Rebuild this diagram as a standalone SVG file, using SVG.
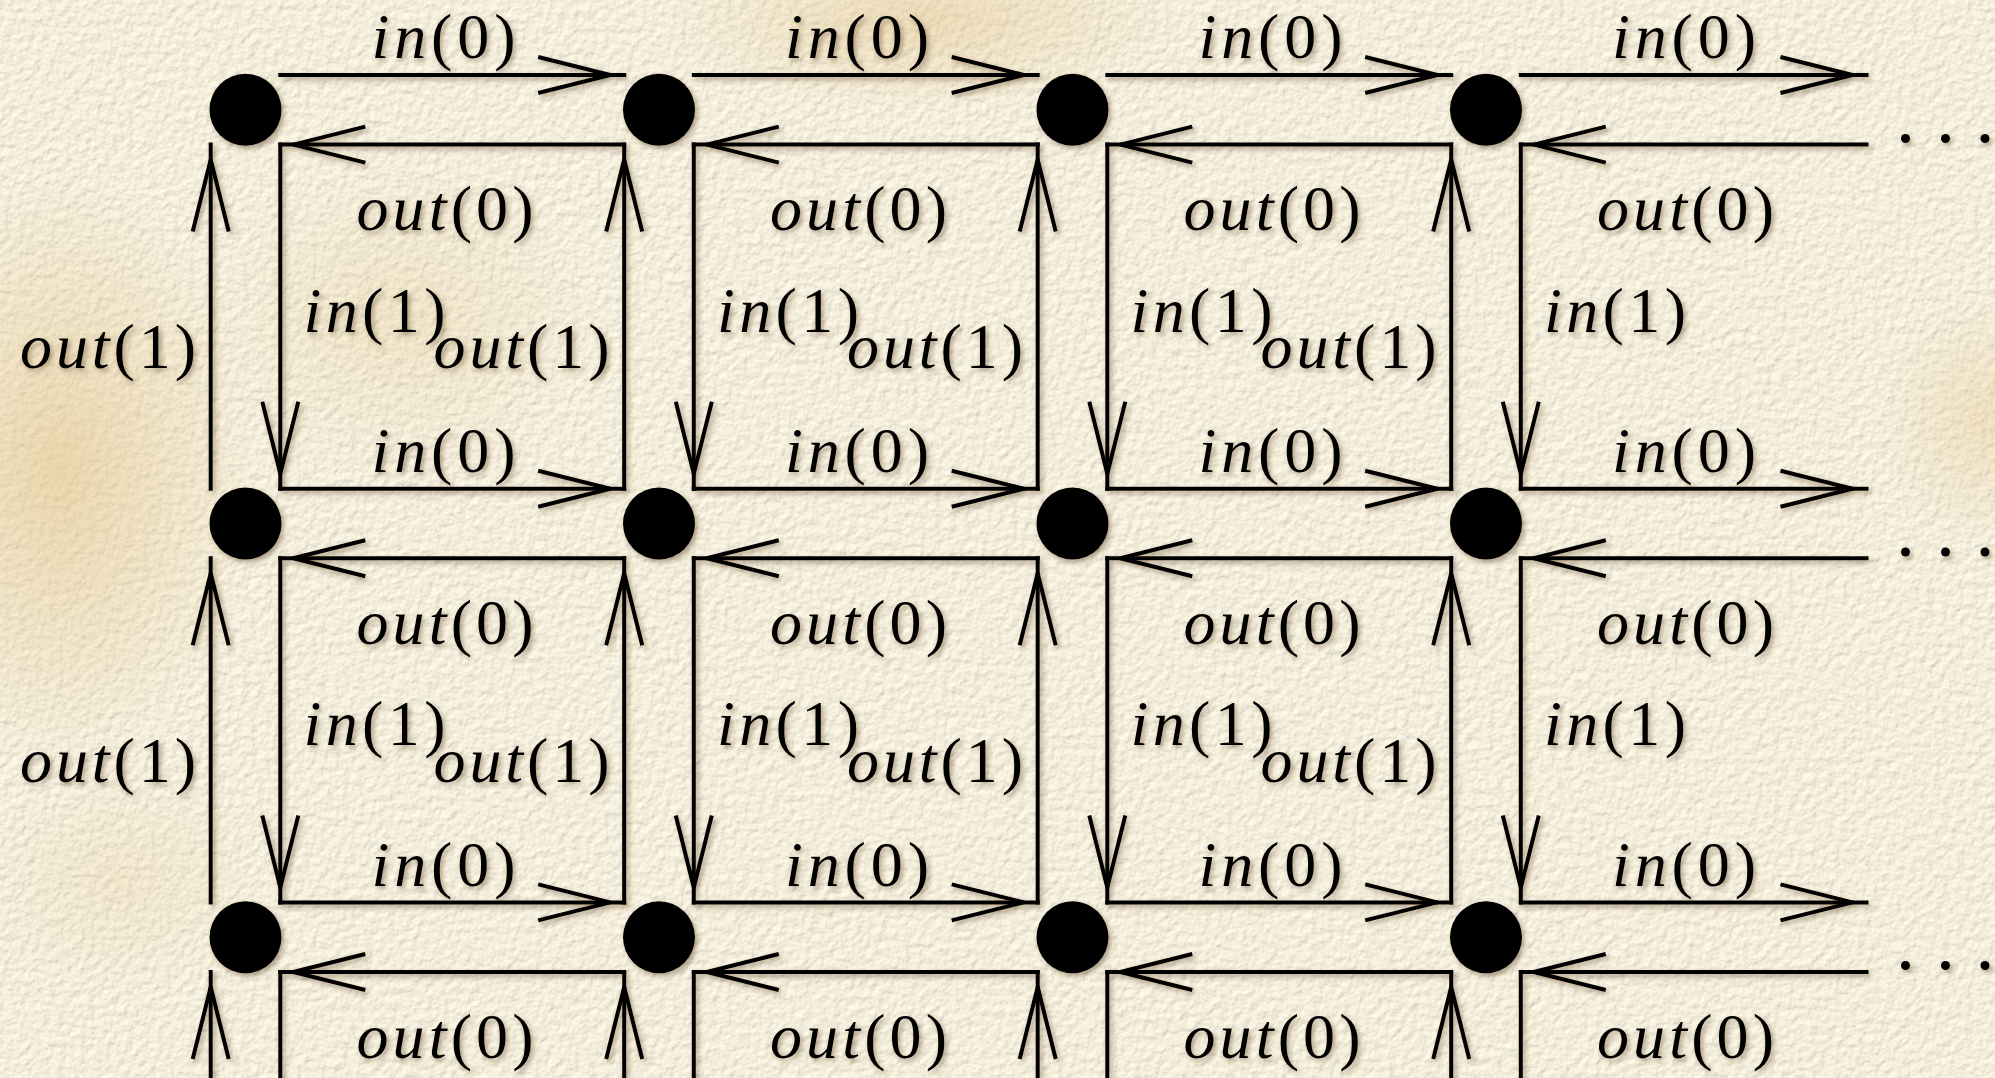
<svg xmlns="http://www.w3.org/2000/svg" width="1995" height="1078" viewBox="0 0 1995 1078">
<defs>
<style>
.ln{stroke:#000;stroke-width:4;fill:none;stroke-linecap:square}
.ah{stroke:#000;stroke-width:4;fill:none;stroke-linecap:butt;stroke-linejoin:round}
.nd{fill:#000}
.lb{font-family:"Liberation Serif","Times New Roman",serif;font-size:64px;fill:#000}
.it{font-style:italic}
.dot{fill:#000}
</style>
<path id="ah" d="M-72,-18 L0,0 L-72,18"/>
<filter id="paper" filterUnits="userSpaceOnUse" x="0" y="0" width="1995" height="1078">
<feTurbulence type="fractalNoise" baseFrequency="0.13" numOctaves="3" seed="11" result="noise"/>
<feDiffuseLighting in="noise" surfaceScale="1.3" diffuseConstant="1" lighting-color="#ffffff" result="light">
<feDistantLight azimuth="235" elevation="62"/>
</feDiffuseLighting>
<feComposite in="light" in2="SourceGraphic" operator="arithmetic" k1="1.1" k2="0" k3="0" k4="0"/>
</filter>
<filter id="shadow" filterUnits="userSpaceOnUse" x="0" y="0" width="1995" height="1078">
<feDropShadow dx="2.5" dy="3" stdDeviation="2.5" flood-color="#5a4320" flood-opacity="0.45"/>
</filter>
<radialGradient id="stain">
<stop offset="0" stop-color="#e2c58c" stop-opacity="0.6"/>
<stop offset="1" stop-color="#e2c58c" stop-opacity="0"/>
</radialGradient>
</defs>

<g id="background">
<rect x="0" y="0" width="1995" height="1078" fill="#f7f1df" filter="url(#paper)"/>
<ellipse cx="60" cy="470" rx="200" ry="300" fill="url(#stain)"/>
<ellipse cx="920" cy="20" rx="260" ry="90" fill="url(#stain)" opacity="0.8"/>
<ellipse cx="400" cy="320" rx="200" ry="160" fill="url(#stain)" opacity="0.45"/>
<ellipse cx="1985" cy="420" rx="110" ry="130" fill="url(#stain)" opacity="0.6"/>
<ellipse cx="120" cy="880" rx="150" ry="120" fill="url(#stain)" opacity="0.35"/>
</g>

<g id="drawing" filter="url(#shadow)">
<g id="connectors">
<g id="in0-r0">
<line class="ln" x1="280.3" y1="75" x2="624.2" y2="75"/><use href="#ah" class="ah" transform="translate(610.2,75)"/>
<line class="ln" x1="693.8" y1="75" x2="1037.7" y2="75"/><use href="#ah" class="ah" transform="translate(1023.7,75)"/>
<line class="ln" x1="1107.3" y1="75" x2="1451.2" y2="75"/><use href="#ah" class="ah" transform="translate(1437.2,75)"/>
<line class="ln" x1="1520.8" y1="75" x2="1866.5" y2="75"/><use href="#ah" class="ah" transform="translate(1852.5,75)"/>
</g>
<g id="in0-r1">
<line class="ln" x1="280.3" y1="488.7" x2="624.2" y2="488.7"/><use href="#ah" class="ah" transform="translate(610.2,488.7)"/>
<line class="ln" x1="693.8" y1="488.7" x2="1037.7" y2="488.7"/><use href="#ah" class="ah" transform="translate(1023.7,488.7)"/>
<line class="ln" x1="1107.3" y1="488.7" x2="1451.2" y2="488.7"/><use href="#ah" class="ah" transform="translate(1437.2,488.7)"/>
<line class="ln" x1="1520.8" y1="488.7" x2="1866.5" y2="488.7"/><use href="#ah" class="ah" transform="translate(1852.5,488.7)"/>
</g>
<g id="in0-r2">
<line class="ln" x1="280.3" y1="902.4" x2="624.2" y2="902.4"/><use href="#ah" class="ah" transform="translate(610.2,902.4)"/>
<line class="ln" x1="693.8" y1="902.4" x2="1037.7" y2="902.4"/><use href="#ah" class="ah" transform="translate(1023.7,902.4)"/>
<line class="ln" x1="1107.3" y1="902.4" x2="1451.2" y2="902.4"/><use href="#ah" class="ah" transform="translate(1437.2,902.4)"/>
<line class="ln" x1="1520.8" y1="902.4" x2="1866.5" y2="902.4"/><use href="#ah" class="ah" transform="translate(1852.5,902.4)"/>
</g>
<g id="out0-r0">
<line class="ln" x1="280.3" y1="144.6" x2="624.2" y2="144.6"/><use href="#ah" class="ah" transform="translate(293.3,144.6) rotate(180)"/>
<line class="ln" x1="693.8" y1="144.6" x2="1037.7" y2="144.6"/><use href="#ah" class="ah" transform="translate(706.8,144.6) rotate(180)"/>
<line class="ln" x1="1107.3" y1="144.6" x2="1451.2" y2="144.6"/><use href="#ah" class="ah" transform="translate(1120.3,144.6) rotate(180)"/>
<line class="ln" x1="1520.8" y1="144.6" x2="1866.5" y2="144.6"/><use href="#ah" class="ah" transform="translate(1533.8,144.6) rotate(180)"/>
</g>
<g id="out0-r1">
<line class="ln" x1="280.3" y1="558.3" x2="624.2" y2="558.3"/><use href="#ah" class="ah" transform="translate(293.3,558.3) rotate(180)"/>
<line class="ln" x1="693.8" y1="558.3" x2="1037.7" y2="558.3"/><use href="#ah" class="ah" transform="translate(706.8,558.3) rotate(180)"/>
<line class="ln" x1="1107.3" y1="558.3" x2="1451.2" y2="558.3"/><use href="#ah" class="ah" transform="translate(1120.3,558.3) rotate(180)"/>
<line class="ln" x1="1520.8" y1="558.3" x2="1866.5" y2="558.3"/><use href="#ah" class="ah" transform="translate(1533.8,558.3) rotate(180)"/>
</g>
<g id="out0-r2">
<line class="ln" x1="280.3" y1="972" x2="624.2" y2="972"/><use href="#ah" class="ah" transform="translate(293.3,972) rotate(180)"/>
<line class="ln" x1="693.8" y1="972" x2="1037.7" y2="972"/><use href="#ah" class="ah" transform="translate(706.8,972) rotate(180)"/>
<line class="ln" x1="1107.3" y1="972" x2="1451.2" y2="972"/><use href="#ah" class="ah" transform="translate(1120.3,972) rotate(180)"/>
<line class="ln" x1="1520.8" y1="972" x2="1866.5" y2="972"/><use href="#ah" class="ah" transform="translate(1533.8,972) rotate(180)"/>
</g>
<g id="out1">
<line class="ln" x1="210.7" y1="144.6" x2="210.7" y2="488.7"/><use href="#ah" class="ah" transform="translate(210.7,159.6) rotate(-90)"/>
<line class="ln" x1="624.2" y1="144.6" x2="624.2" y2="488.7"/><use href="#ah" class="ah" transform="translate(624.2,159.6) rotate(-90)"/>
<line class="ln" x1="1037.7" y1="144.6" x2="1037.7" y2="488.7"/><use href="#ah" class="ah" transform="translate(1037.7,159.6) rotate(-90)"/>
<line class="ln" x1="1451.2" y1="144.6" x2="1451.2" y2="488.7"/><use href="#ah" class="ah" transform="translate(1451.2,159.6) rotate(-90)"/>
<line class="ln" x1="210.7" y1="558.3" x2="210.7" y2="902.4"/><use href="#ah" class="ah" transform="translate(210.7,573.3) rotate(-90)"/>
<line class="ln" x1="624.2" y1="558.3" x2="624.2" y2="902.4"/><use href="#ah" class="ah" transform="translate(624.2,573.3) rotate(-90)"/>
<line class="ln" x1="1037.7" y1="558.3" x2="1037.7" y2="902.4"/><use href="#ah" class="ah" transform="translate(1037.7,573.3) rotate(-90)"/>
<line class="ln" x1="1451.2" y1="558.3" x2="1451.2" y2="902.4"/><use href="#ah" class="ah" transform="translate(1451.2,573.3) rotate(-90)"/>
<line class="ln" x1="210.7" y1="972" x2="210.7" y2="1085"/><use href="#ah" class="ah" transform="translate(210.7,987) rotate(-90)"/>
<line class="ln" x1="624.2" y1="972" x2="624.2" y2="1085"/><use href="#ah" class="ah" transform="translate(624.2,987) rotate(-90)"/>
<line class="ln" x1="1037.7" y1="972" x2="1037.7" y2="1085"/><use href="#ah" class="ah" transform="translate(1037.7,987) rotate(-90)"/>
<line class="ln" x1="1451.2" y1="972" x2="1451.2" y2="1085"/><use href="#ah" class="ah" transform="translate(1451.2,987) rotate(-90)"/>
</g>
<g id="in1">
<line class="ln" x1="280.3" y1="144.6" x2="280.3" y2="488.7"/><use href="#ah" class="ah" transform="translate(280.3,473.7) rotate(90)"/>
<line class="ln" x1="693.8" y1="144.6" x2="693.8" y2="488.7"/><use href="#ah" class="ah" transform="translate(693.8,473.7) rotate(90)"/>
<line class="ln" x1="1107.3" y1="144.6" x2="1107.3" y2="488.7"/><use href="#ah" class="ah" transform="translate(1107.3,473.7) rotate(90)"/>
<line class="ln" x1="1520.8" y1="144.6" x2="1520.8" y2="488.7"/><use href="#ah" class="ah" transform="translate(1520.8,473.7) rotate(90)"/>
<line class="ln" x1="280.3" y1="558.3" x2="280.3" y2="902.4"/><use href="#ah" class="ah" transform="translate(280.3,887.4) rotate(90)"/>
<line class="ln" x1="693.8" y1="558.3" x2="693.8" y2="902.4"/><use href="#ah" class="ah" transform="translate(693.8,887.4) rotate(90)"/>
<line class="ln" x1="1107.3" y1="558.3" x2="1107.3" y2="902.4"/><use href="#ah" class="ah" transform="translate(1107.3,887.4) rotate(90)"/>
<line class="ln" x1="1520.8" y1="558.3" x2="1520.8" y2="902.4"/><use href="#ah" class="ah" transform="translate(1520.8,887.4) rotate(90)"/>
<line class="ln" x1="280.3" y1="972" x2="280.3" y2="1085"/>
<line class="ln" x1="693.8" y1="972" x2="693.8" y2="1085"/>
<line class="ln" x1="1107.3" y1="972" x2="1107.3" y2="1085"/>
<line class="ln" x1="1520.8" y1="972" x2="1520.8" y2="1085"/>
</g>
</g>

<g id="nodes">
<g id="n00"><circle class="nd" cx="245.5" cy="109.8" r="36"/></g>
<g id="n01"><circle class="nd" cx="659" cy="109.8" r="36"/></g>
<g id="n02"><circle class="nd" cx="1072.5" cy="109.8" r="36"/></g>
<g id="n03"><circle class="nd" cx="1486" cy="109.8" r="36"/></g>
<g id="n10"><circle class="nd" cx="245.5" cy="523.5" r="36"/></g>
<g id="n11"><circle class="nd" cx="659" cy="523.5" r="36"/></g>
<g id="n12"><circle class="nd" cx="1072.5" cy="523.5" r="36"/></g>
<g id="n13"><circle class="nd" cx="1486" cy="523.5" r="36"/></g>
<g id="n20"><circle class="nd" cx="245.5" cy="937.2" r="36"/></g>
<g id="n21"><circle class="nd" cx="659" cy="937.2" r="36"/></g>
<g id="n22"><circle class="nd" cx="1072.5" cy="937.2" r="36"/></g>
<g id="n23"><circle class="nd" cx="1486" cy="937.2" r="36"/></g>
</g>

<g id="ellipses">
<circle class="dot" cx="1905.5" cy="138.5" r="4.5"/><circle class="dot" cx="1945.5" cy="138.5" r="4.5"/><circle class="dot" cx="1985" cy="138.5" r="4.5"/>
<circle class="dot" cx="1905.5" cy="552" r="4.5"/><circle class="dot" cx="1945.5" cy="552" r="4.5"/><circle class="dot" cx="1985" cy="552" r="4.5"/>
<circle class="dot" cx="1905.5" cy="965.5" r="4.5"/><circle class="dot" cx="1945.5" cy="965.5" r="4.5"/><circle class="dot" cx="1985" cy="965.5" r="4.5"/>
</g>

<g id="labels" class="lb">
<text x="371.5" y="58.3" textLength="144" lengthAdjust="spacing"><tspan class="it">in</tspan>(0)</text>
<text x="785" y="58.3" textLength="144" lengthAdjust="spacing"><tspan class="it">in</tspan>(0)</text>
<text x="1198.5" y="58.3" textLength="144" lengthAdjust="spacing"><tspan class="it">in</tspan>(0)</text>
<text x="1612" y="58.3" textLength="144" lengthAdjust="spacing"><tspan class="it">in</tspan>(0)</text>
<text x="371.5" y="472" textLength="144" lengthAdjust="spacing"><tspan class="it">in</tspan>(0)</text>
<text x="785" y="472" textLength="144" lengthAdjust="spacing"><tspan class="it">in</tspan>(0)</text>
<text x="1198.5" y="472" textLength="144" lengthAdjust="spacing"><tspan class="it">in</tspan>(0)</text>
<text x="1612" y="472" textLength="144" lengthAdjust="spacing"><tspan class="it">in</tspan>(0)</text>
<text x="371.5" y="885.7" textLength="144" lengthAdjust="spacing"><tspan class="it">in</tspan>(0)</text>
<text x="785" y="885.7" textLength="144" lengthAdjust="spacing"><tspan class="it">in</tspan>(0)</text>
<text x="1198.5" y="885.7" textLength="144" lengthAdjust="spacing"><tspan class="it">in</tspan>(0)</text>
<text x="1612" y="885.7" textLength="144" lengthAdjust="spacing"><tspan class="it">in</tspan>(0)</text>
<text x="356.5" y="230.3" textLength="177" lengthAdjust="spacing"><tspan class="it">out</tspan>(0)</text>
<text x="770" y="230.3" textLength="177" lengthAdjust="spacing"><tspan class="it">out</tspan>(0)</text>
<text x="1183.5" y="230.3" textLength="177" lengthAdjust="spacing"><tspan class="it">out</tspan>(0)</text>
<text x="1597" y="230.3" textLength="177" lengthAdjust="spacing"><tspan class="it">out</tspan>(0)</text>
<text x="356.5" y="644" textLength="177" lengthAdjust="spacing"><tspan class="it">out</tspan>(0)</text>
<text x="770" y="644" textLength="177" lengthAdjust="spacing"><tspan class="it">out</tspan>(0)</text>
<text x="1183.5" y="644" textLength="177" lengthAdjust="spacing"><tspan class="it">out</tspan>(0)</text>
<text x="1597" y="644" textLength="177" lengthAdjust="spacing"><tspan class="it">out</tspan>(0)</text>
<text x="356.5" y="1057.7" textLength="177" lengthAdjust="spacing"><tspan class="it">out</tspan>(0)</text>
<text x="770" y="1057.7" textLength="177" lengthAdjust="spacing"><tspan class="it">out</tspan>(0)</text>
<text x="1183.5" y="1057.7" textLength="177" lengthAdjust="spacing"><tspan class="it">out</tspan>(0)</text>
<text x="1597" y="1057.7" textLength="177" lengthAdjust="spacing"><tspan class="it">out</tspan>(0)</text>
<text x="303.5" y="331.6" textLength="142" lengthAdjust="spacing"><tspan class="it">in</tspan>(1)</text>
<text x="717" y="331.6" textLength="142" lengthAdjust="spacing"><tspan class="it">in</tspan>(1)</text>
<text x="1130.5" y="331.6" textLength="142" lengthAdjust="spacing"><tspan class="it">in</tspan>(1)</text>
<text x="1544" y="331.6" textLength="142" lengthAdjust="spacing"><tspan class="it">in</tspan>(1)</text>
<text x="303.5" y="745.3" textLength="142" lengthAdjust="spacing"><tspan class="it">in</tspan>(1)</text>
<text x="717" y="745.3" textLength="142" lengthAdjust="spacing"><tspan class="it">in</tspan>(1)</text>
<text x="1130.5" y="745.3" textLength="142" lengthAdjust="spacing"><tspan class="it">in</tspan>(1)</text>
<text x="1544" y="745.3" textLength="142" lengthAdjust="spacing"><tspan class="it">in</tspan>(1)</text>
<text x="20" y="368.1" textLength="176" lengthAdjust="spacing"><tspan class="it">out</tspan>(1)</text>
<text x="433.5" y="368.1" textLength="176" lengthAdjust="spacing"><tspan class="it">out</tspan>(1)</text>
<text x="847" y="368.1" textLength="176" lengthAdjust="spacing"><tspan class="it">out</tspan>(1)</text>
<text x="1260.5" y="368.1" textLength="176" lengthAdjust="spacing"><tspan class="it">out</tspan>(1)</text>
<text x="20" y="781.8" textLength="176" lengthAdjust="spacing"><tspan class="it">out</tspan>(1)</text>
<text x="433.5" y="781.8" textLength="176" lengthAdjust="spacing"><tspan class="it">out</tspan>(1)</text>
<text x="847" y="781.8" textLength="176" lengthAdjust="spacing"><tspan class="it">out</tspan>(1)</text>
<text x="1260.5" y="781.8" textLength="176" lengthAdjust="spacing"><tspan class="it">out</tspan>(1)</text>
</g>
</g>
</svg>
